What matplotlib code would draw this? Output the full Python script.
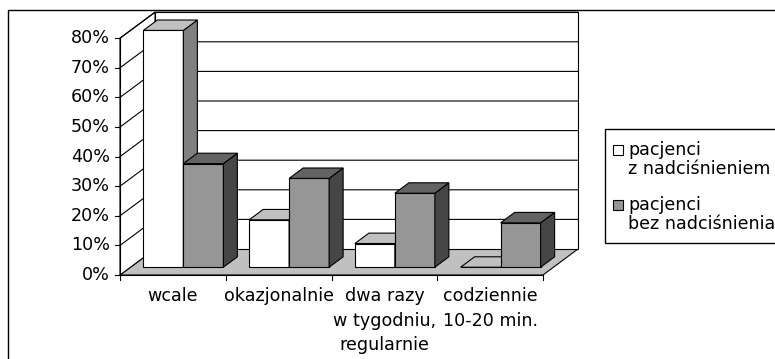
import matplotlib
matplotlib.use("Agg")
import matplotlib.pyplot as plt
from matplotlib.patches import Polygon, Rectangle

# dane
categories = ["wcale", "okazjonalnie", "dwa razy\nw tygodniu,\nregularnie", "codziennie\n10-20 min."]
z_nadcisnieniem = [80, 16, 8, 0]
bez_nadcisnienia = [35, 30, 25, 15]
series_labels = ["pacjenci\nz nadciśnieniem", "pacjenci\nbez nadciśnienia"]
y_ticks = [0, 10, 20, 30, 40, 50, 60, 70, 80]

W, H = 775, 359
X0, Y0 = 120, 275          # przedni lewy rog podlogi (px)
CAT_PX, PCT_PX = 105.75, 2.96
DEPTH_X, DEPTH_Y = 35, 26  # przesuniecie w glab (px)
FS = 12.6

fig = plt.figure(figsize=(W / 100, H / 100), dpi=100)
ax = fig.add_axes([0, 0, 1, 1])
ax.axis("off")
ax.set_xlim(-X0 / CAT_PX, (W - X0) / CAT_PX)
ax.set_ylim(-(H - Y0) / PCT_PX, Y0 / PCT_PX)

DX = DEPTH_X / CAT_PX
DY = DEPTH_Y / PCT_PX
n = len(categories)
ymax = y_ticks[-1]
LW = 0.8


def proj(x, y, d):
    return (x + d * DX, y + d * DY)


def face(pts, fc, z=2):
    ax.add_patch(Polygon([proj(*p) for p in pts], closed=True, fc=fc,
                         ec="black", lw=LW, zorder=z, joinstyle="miter"))


# sciany i podloga
face([(0, 0, 0), (n, 0, 0), (n, 0, 1), (0, 0, 1)], "#c0c0c0", 1)
face([(0, 0, 1), (n, 0, 1), (n, ymax, 1), (0, ymax, 1)], "white", 1)
face([(0, 0, 0), (0, 0, 1), (0, ymax, 1), (0, ymax, 0)], "white", 1)

for v in y_ticks[1:]:
    pts = [proj(0, v, 0), proj(0, v, 1), proj(n, v, 1)]
    ax.plot([p[0] for p in pts], [p[1] for p in pts], color="black", lw=LW, zorder=1.5)

# os Y
ax.plot([0, 0], [0, ymax], color="black", lw=LW, zorder=5)
for v in y_ticks:
    ax.plot([-5 / CAT_PX, 0], [v, v], color="black", lw=LW, zorder=5)
    ax.text(-10 / CAT_PX, v, f"{v}%", ha="right", va="center", fontsize=FS)

# os X
ax.plot([0, n], [0, 0], color="black", lw=LW, zorder=5)
for k in range(n + 1):
    ax.plot([k, k], [0, -4.5 / PCT_PX], color="black", lw=LW, zorder=5)
for k, lab in enumerate(categories):
    ax.text(k + 0.5, -12 / PCT_PX, lab, ha="center", va="top", fontsize=FS,
            linespacing=1.47)

# slupki 3D
bw = 40 / CAT_PX
d0, d1 = 0.3, 0.7
styles = [("white", "#c0c0c0", "#808080"), ("#969696", "#636363", "#464646")]
for i in range(n):
    for s, vals in enumerate([z_nadcisnieniem, bez_nadcisnienia]):
        front, top, side = styles[s]
        x0 = i + 0.5 - bw + s * bw
        x1 = x0 + bw
        h = vals[i]
        face([(x0, 0, d0), (x1, 0, d0), (x1, h, d0), (x0, h, d0)], front, 3)
        face([(x1, 0, d0), (x1, 0, d1), (x1, h, d1), (x1, h, d0)], side, 3)
        face([(x0, h, d0), (x1, h, d0), (x1, h, d1), (x0, h, d1)], top, 3)

# ramka wykresu
tf = fig.transFigure
fig.patches.append(Rectangle((8 / W, -0.1), 2, 1 - 10 / H + 0.1, transform=tf,
                             fill=False, ec="black", lw=1.0))

# legenda
fig.patches.append(Rectangle((605 / W, 1 - 243 / H), 2, (243 - 129) / H, transform=tf,
                             fc="white", ec="black", lw=1.0))
leg_base = [155, 210]
for s, lab in enumerate(series_labels):
    b = leg_base[s]
    fig.patches.append(Rectangle((613 / W, 1 - b / H), 10 / W, 10 / H, transform=tf,
                                 fc=styles[s][0], ec="black", lw=LW))
    fig.text(628 / W, 1 - (b + 19) / H, lab, ha="left", va="baseline", fontsize=FS,
             linespacing=1.1)

fig.savefig("out.png", dpi=100)
